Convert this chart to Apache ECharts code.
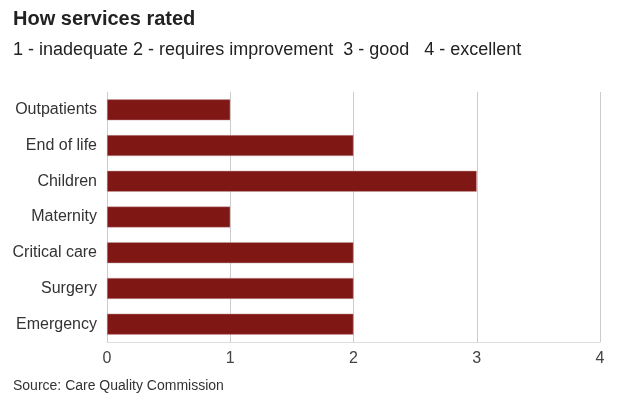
<!DOCTYPE html>
<html>
<head>
<meta charset="utf-8">
<script src="https://cdn.jsdelivr.net/npm/echarts@6/dist/echarts.min.js"></script>
<style>html,body{margin:0;padding:0;background:#fff}#c{width:624px;height:400px}</style>
</head>
<body>
<div id="c"></div>
<script>
const categories = ['Outpatients', 'End of life', 'Children', 'Maternity', 'Critical care', 'Surgery', 'Emergency'];
const ratings = [1, 2, 3, 1, 2, 2, 2];
const xTicks = [0, 1, 2, 3, 4];

const chart = echarts.init(document.getElementById('c'));
chart.setOption({
  animation: false,
  textStyle: { fontFamily: 'Liberation Sans, Arial, sans-serif' },
  title: [
    { text: 'How services rated', left: 13, top: 9, padding: 0, textStyle: { fontSize: 20, fontWeight: 'bold', color: '#222' } },
    { text: '1 - inadequate 2 - requires improvement  3 - good   4 - excellent', left: 13, top: 41, padding: 0, textStyle: { fontSize: 18, fontWeight: 'normal', color: '#222' } },
    { text: 'Source: Care Quality Commission', left: 13, top: 379, padding: 0, textStyle: { fontSize: 14, fontWeight: 'normal', color: '#333' } }
  ],
  grid: { left: 107, right: 24, top: 92, bottom: 58 },
  xAxis: {
    type: 'value', min: xTicks[0], max: xTicks[xTicks.length - 1], interval: 1,
    axisLine: { show: true, lineStyle: { color: '#ddd' } },
    axisTick: { show: false },
    axisLabel: { fontSize: 16, color: '#444', margin: 9 },
    splitLine: { lineStyle: { color: '#ccc' } }
  },
  yAxis: {
    type: 'category', data: categories, inverse: true,
    axisLine: { show: false }, axisTick: { show: false },
    axisLabel: { fontSize: 16, color: '#333', margin: 10 }
  },
  series: [{
    type: 'bar', data: ratings, barWidth: 21,
    itemStyle: { color: '#7f1715', borderColor: '#c9a0a0', borderWidth: 0.5 }
  }]
});
</script>
</body>
</html>
